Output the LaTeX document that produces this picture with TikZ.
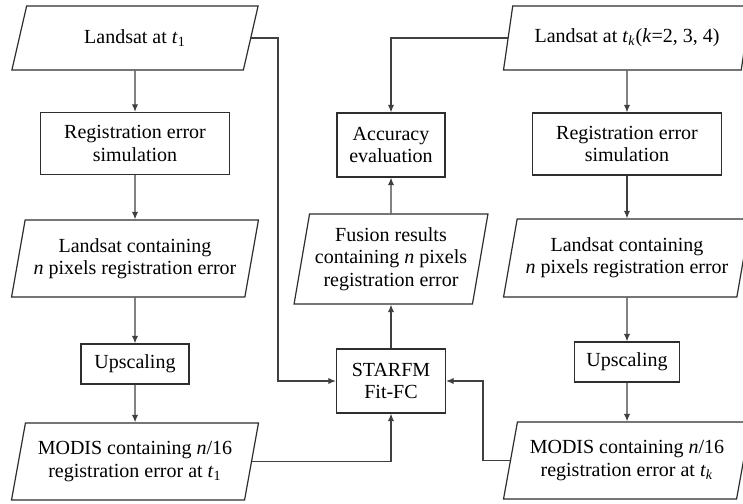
\documentclass[tikz,border=0pt]{standalone}
\usepackage{fontspec}
\setmainfont{Liberation Serif}
\usetikzlibrary{shapes.geometric,arrows.meta}
\definecolor{edge}{HTML}{2E2E2E}
\definecolor{wire}{HTML}{404040}
\begin{document}
\begin{tikzpicture}[x=0.5pt,y=-0.5pt,
  every node/.style={font=\fontsize{10}{11.2}\selectfont, align=center, text=black},
  box/.style={draw=edge, line width=0.6pt, rectangle, inner sep=1pt},
  para/.style={draw=edge, line width=0.6pt, trapezium, trapezium stretches=true, inner sep=1pt, minimum width=123.5pt},
  arr/.style={draw=wire, line width=0.6pt, -{Latex[length=3.8pt,width=3.2pt]}},
]
\useasboundingbox (0,0) rectangle (743,503);
\fill[white] (0,0) rectangle (743,503);
\clip (0,0) rectangle (743,503);

% left column
\node[para, trapezium left angle=71, trapezium right angle=109, minimum height=32pt] (L1) at (135,38) {Landsat at \textit{t}\textsubscript{1}};
\node[box, minimum width=94.5pt, minimum height=31pt] (R1) at (135,143.5) {Registration error\\simulation};
\node[para, trapezium left angle=74, trapezium right angle=106, minimum height=38.5pt] (L2) at (135,258.5) {Landsat containing\\\textit{n} pixels registration error};
\node[box, minimum width=54pt, minimum height=20pt] (U1) at (135,364) {Upscaling};
\node[para, trapezium left angle=74, trapezium right angle=106, minimum height=38.5pt] (M1) at (135,461.5) {MODIS containing \textit{n}/16\\registration error at \textit{t}\textsubscript{1}};

% middle column
\node[box, minimum width=54pt, minimum height=32pt] (A) at (391,145) {Accuracy\\evaluation};
\node[para, trapezium left angle=77.5, trapezium right angle=102.5, minimum width=97.5pt, minimum height=45pt] (F) at (391,259) {Fusion results\\containing \textit{n} pixels\\registration error};
\node[box, minimum width=54.5pt, minimum height=32pt] (S) at (391,381) {STARFM\\Fit-FC};

% right column
\node[para, trapezium left angle=71, trapezium right angle=109, minimum height=32pt] (LK) at (627,38) {Landsat at \textit{t}\textsubscript{\textit{k}}(\textit{k}=2, 3, 4)};
\node[box, minimum width=94.5pt, minimum height=31pt] (RK) at (627,144) {Registration error\\simulation};
\node[para, trapezium left angle=74, trapezium right angle=106, minimum height=39pt] (LK2) at (627,258) {Landsat containing\\\textit{n} pixels registration error};
\node[box, minimum width=52.5pt, minimum height=20pt] (UK) at (627,362) {Upscaling};
\node[para, trapezium left angle=74, trapezium right angle=106, minimum height=38.5pt] (MK) at (627,460.5) {MODIS containing \textit{n}/16\\registration error at \textit{t}\textsubscript{\textit{k}}};

\coordinate (j1) at (278,381);
\coordinate (j2) at (483,381);

% connectors
\draw[arr] (L1) -- (R1);
\draw[arr] (R1) -- (L2);
\draw[arr] (L2) -- (U1);
\draw[arr] (U1) -- (M1);
\draw[arr] (L1.east) -| (j1) -- (S.west);
\draw[arr] (M1.east) -| (S.south);
\draw[arr] (S) -- (F);
\draw[arr] (F) -- (A);
\draw[arr] (LK.west) -| (A.north);
\draw[arr] (LK) -- (RK);
\draw[arr] (RK) -- (LK2);
\draw[arr] (LK2) -- (UK);
\draw[arr] (UK) -- (MK);
\draw[arr] (MK.west) -| (j2) -- (S.east);
\end{tikzpicture}
\end{document}
